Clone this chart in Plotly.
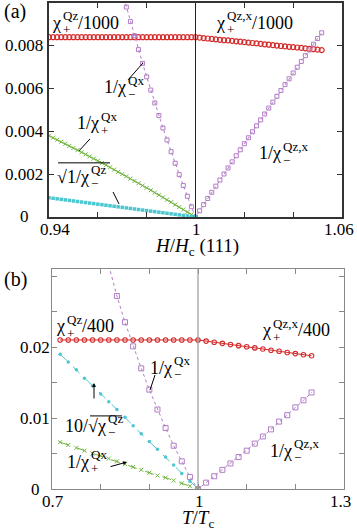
import plotly.graph_objects as go

# ── Data ───────────────────────────────────────────────────────────────────────
# panel (a): field sweep, H/Hc sampled every 1/600
H_A = [0.94, 0.94167, 0.94333, 0.945, 0.94667, 0.94833, 0.95, 0.95167, 0.95333, 0.955,
       0.95667, 0.95833, 0.96, 0.96167, 0.96333, 0.965, 0.96667, 0.96833, 0.97, 0.97167,
       0.97333, 0.975, 0.97667, 0.97833, 0.98, 0.98167, 0.98333, 0.985, 0.98667, 0.98833,
       0.99, 0.99167, 0.99333, 0.995, 0.99667, 0.99833, 1.0, 1.00167, 1.00333, 1.005,
       1.00667, 1.00833, 1.01, 1.01167, 1.01333, 1.015, 1.01667, 1.01833, 1.02, 1.02167,
       1.02333, 1.025, 1.02667, 1.02833, 1.03, 1.03167, 1.03333, 1.035, 1.03667, 1.03833,
       1.04, 1.04167, 1.04333, 1.045, 1.04667, 1.04833, 1.05, 1.05167]

chi_plus_a = [0.0084] * 37 + [
    0.00838, 0.00836, 0.00834, 0.00832, 0.0083, 0.00828, 0.00826, 0.00825, 0.00823, 0.00821,
    0.00819, 0.00817, 0.00815, 0.00813, 0.00811, 0.00809, 0.00807, 0.00805, 0.00803, 0.00801,
    0.00799, 0.00797, 0.00795, 0.00794, 0.00792, 0.0079, 0.00788, 0.00786, 0.00784, 0.00782,
    0.0078]

inv_plus_qx_a = [
    0.0038, 0.003705, 0.00361, 0.003515, 0.003419, 0.003322, 0.003224, 0.003126, 0.003028,
    0.002928, 0.002828, 0.002728, 0.002626, 0.002524, 0.002422, 0.002318, 0.002214, 0.00211,
    0.002005, 0.001899, 0.001792, 0.001685, 0.001577, 0.001469, 0.00136, 0.00125, 0.00114,
    0.001029, 0.000917, 0.000805, 0.000692, 0.000578, 0.000464, 0.000349, 0.000233, 0.000117,
    0.0]

sqrt_minus_qz_a = [
    0.0009, 0.000875, 0.00085, 0.000825, 0.0008, 0.000775, 0.00075, 0.000725, 0.0007,
    0.000675, 0.00065, 0.000625, 0.0006, 0.000575, 0.00055, 0.000525, 0.0005, 0.000475,
    0.00045, 0.000425, 0.0004, 0.000375, 0.00035, 0.000325, 0.0003, 0.000275, 0.00025,
    0.000225, 0.0002, 0.000175, 0.00015, 0.000125, 0.0001, 0.000075, 0.00005, 0.000025, 0.0]

# 1/chi_-  (Qx below Hc, Qz,x above); starts at H = 0.97
inv_minus_a = [
    0.0105, 0.00981, 0.00913, 0.00847, 0.00782, 0.00718, 0.00655, 0.00593, 0.00533, 0.00474,
    0.00416, 0.0036, 0.00305, 0.00251, 0.00198, 0.00147, 0.00097, 0.00048, 0.0,
    0.00029, 0.000578, 0.000866, 0.001154, 0.00144, 0.001726, 0.00201, 0.002294, 0.002578,
    0.00286, 0.003142, 0.003422, 0.003702, 0.003982, 0.00426, 0.004538, 0.004814, 0.00509,
    0.005366, 0.00564, 0.005914, 0.006186, 0.006458, 0.00673, 0.007, 0.00727, 0.007538,
    0.007806, 0.008074, 0.00834, 0.008606]

# panel (b): temperature sweep, T/Tc sampled every 1/60
T_B = [0.71667, 0.73333, 0.75, 0.76667, 0.78333, 0.8, 0.81667, 0.83333, 0.85, 0.86667,
       0.88333, 0.9, 0.91667, 0.93333, 0.95, 0.96667, 0.98333, 1.0, 1.01667, 1.03333,
       1.05, 1.06667, 1.08333, 1.1, 1.11667, 1.13333, 1.15, 1.16667, 1.18333, 1.2,
       1.21667, 1.23333]

chi_plus_b = [0.021] * 18 + [
    0.02084, 0.02068, 0.02052, 0.02036, 0.0202, 0.02004, 0.01988, 0.01972, 0.01956, 0.0194,
    0.01924, 0.01908, 0.01892, 0.01877]

inv_minus_b = [  # starts at T = 0.81667
    0.0315, 0.0272, 0.0235, 0.0201, 0.017, 0.014, 0.0112, 0.0086, 0.0061, 0.0039, 0.0017, 0.0,
    0.0009, 0.0018, 0.0027, 0.0036, 0.0045, 0.0054, 0.0064, 0.0074, 0.0084, 0.0095, 0.0104,
    0.0115, 0.0125, 0.0136]

sqrt_minus_qz_b = [0.019, 0.0179, 0.0168, 0.0156, 0.0145, 0.0134, 0.0123, 0.0112, 0.0101,
                   0.0089, 0.0078, 0.0067, 0.0056, 0.0045, 0.0034, 0.0022, 0.0011, 0.0]

inv_plus_qx_b = [0.0066, 0.0062, 0.0058, 0.0054, 0.005, 0.0047, 0.0043, 0.0039, 0.0035,
                 0.0031, 0.0027, 0.0023, 0.0019, 0.0016, 0.0012, 0.0008, 0.0004, 0.0]

# ticks (labels only where the reference prints one)
XT_A = [0.94, 0.96, 0.98, 1.0, 1.02, 1.04, 1.06]
XL_A = {0.94: "0.94", 1.0: "1", 1.06: "1.06"}
YT_A = [0, 0.002, 0.004, 0.006, 0.008, 0.01]
YL_A = {0: "0", 0.002: "0.002", 0.004: "0.004", 0.006: "0.006", 0.008: "0.008"}
XT_B = [0.7, 0.8, 0.9, 1.0, 1.1, 1.2, 1.3]
XL_B = {0.7: "0.7", 1.0: "1", 1.3: "1.3"}
YT_B = [0, 0.005, 0.01, 0.015, 0.02, 0.025, 0.03]
YL_B = {0: "0", 0.01: "0.01", 0.02: "0.02"}

# ── Style ──────────────────────────────────────────────────────────────────────
SERIF = "Liberation Serif, Times New Roman, serif"
RED = "#d42a2a"
PURPLE = "#b27cc6"
CYAN = "#4cc6cf"
GREEN = "#6fb43c"
BASE = dict(family=SERIF, size=18, color="black")
SCRIPT = dict(family=SERIF, size=13, color="black")
TICK = dict(family=SERIF, size=17, color="black")

fig = go.Figure()

# panel (a)
fig.add_trace(go.Scatter(x=H_A, y=chi_plus_a, mode="markers", xaxis="x", yaxis="y",
                         marker=dict(symbol="circle-open", size=5, color=RED, line=dict(width=1.2))))
fig.add_trace(go.Scatter(x=H_A[18:], y=inv_minus_a, mode="lines+markers", xaxis="x", yaxis="y",
                         line=dict(color=PURPLE, width=1, dash="dot"),
                         marker=dict(symbol="square-open", size=4, color=PURPLE, line=dict(width=1))))
fig.add_trace(go.Scatter(x=H_A[:37], y=inv_plus_qx_a, mode="lines+markers", xaxis="x", yaxis="y",
                         line=dict(color=GREEN, width=1),
                         marker=dict(symbol="x-thin-open", size=4, color=GREEN, line=dict(width=1, color=GREEN))))
fig.add_trace(go.Scatter(x=H_A[:37], y=sqrt_minus_qz_a, mode="markers", xaxis="x", yaxis="y",
                         marker=dict(symbol="square", size=3.5, color=CYAN)))

# panel (b)
fig.add_trace(go.Scatter(x=T_B, y=chi_plus_b, mode="lines+markers", xaxis="x2", yaxis="y2",
                         line=dict(color=RED, width=1),
                         marker=dict(symbol="circle-open", size=4.5, color=RED, line=dict(width=1.1))))
fig.add_trace(go.Scatter(x=T_B[6:], y=inv_minus_b, mode="lines+markers", xaxis="x2", yaxis="y2",
                         line=dict(color=PURPLE, width=1, dash="dot"),
                         marker=dict(symbol="square-open", size=5, color=PURPLE, line=dict(width=1))))
fig.add_trace(go.Scatter(x=T_B[:18], y=sqrt_minus_qz_b, mode="lines+markers", xaxis="x2", yaxis="y2",
                         line=dict(color=CYAN, width=1, dash="dash"),
                         marker=dict(symbol="circle", size=3.5, color=CYAN)))
fig.add_trace(go.Scatter(x=T_B[:18], y=inv_plus_qx_b, mode="lines+markers", xaxis="x2", yaxis="y2",
                         line=dict(color=GREEN, width=1, dash="dash"),
                         marker=dict(symbol="x-thin-open", size=4, color=GREEN, line=dict(width=1, color=GREEN))))


def axis(dom, rng, tv, col, anchor, lw):
    return dict(domain=dom, range=rng, tickvals=tv, ticks="inside", ticklen=5, tickcolor=col,
                showline=True, linecolor=col, linewidth=lw, mirror="ticks", showgrid=False,
                zeroline=False, anchor=anchor, showticklabels=False)


fig.update_layout(
    width=357, height=532,
    margin=dict(l=0, r=0, t=0, b=0),
    paper_bgcolor="white", plot_bgcolor="white",
    showlegend=False,
    font=dict(family=SERIF, size=18, color="black"),
    xaxis=axis([0.1373, 0.958], [0.94, 1.06], XT_A, "#333", "y", 1.5),
    yaxis=axis([0.5921, 0.9944], [0, 0.01], YT_A, "#333", "x", 1.5),
    xaxis2=axis([0.1457, 0.9636], [0.7, 1.3], XT_B, "#888", "y2", 1.2),
    yaxis2=axis([0.0808, 0.4944], [0, 0.031], YT_B, "#888", "x2", 1.2),
)

# vertical lines at the critical point
fig.add_shape(type="line", xref="x", yref="y", x0=1, x1=1, y0=0, y1=0.01, line=dict(color="#222", width=1))
fig.add_shape(type="line", xref="x2", yref="y2", x0=1, x1=1, y0=0, y1=0.031, line=dict(color="#999", width=1.2))


def note(x, y, text, font, xr="paper", yr="paper", xa="center", ya="middle", **kw):
    return dict(x=x, y=y, xref=xr, yref=yr, text=text, showarrow=False, font=font,
                xanchor=xa, yanchor=ya, borderpad=0, **kw)


ann = []

# tick labels
XSHIFT = {0.94: 6, 1.0: 1, 1.06: -3, 0.7: 1, 1.3: -4}
for v, t in XL_A.items():
    ann.append(note(v, 0, t, TICK, "x", "y", ya="top", yshift=-2, xshift=XSHIFT[v]))
for v, t in YL_A.items():
    ann.append(note(24 / 357, v, t, TICK, "paper", "y"))
for v, t in XL_B.items():
    ann.append(note(v, 0, t, TICK, "x2", "y2", ya="top", yshift=-2, xshift=XSHIFT[v]))
for v, t in YL_B.items():
    ann.append(note(35 / 357, v, t, TICK, "paper", "y2"))

# panel tags and axis titles
TITLE = dict(family=SERIF, size=19, color="black")
ann += [
    note(15 / 357, 1 - 12 / 532, "(a)", dict(family=SERIF, size=20, color="black")),
    note(15 / 357, 1 - 279 / 532, "(b)", dict(family=SERIF, size=20, color="black")),
    note(197 / 357, 1 - 247 / 532, "<i>H</i>/<i>H</i><sub>c</sub> (111)", TITLE),
    note(198 / 357, 1 - 519 / 532, "<i>T</i>/<i>T</i><sub>c</sub>", TITLE),
]


def chi_label(xr, yr, x, y, base, sup, sub, tail="", tail_dx=0):
    out = [
        note(x, y, base, BASE, xr, yr, xa="right"),
        note(x, y, sup, SCRIPT, xr, yr, xa="left", yshift=7),
        note(x, y, sub, SCRIPT, xr, yr, xa="left", yshift=-7),
    ]
    if tail:
        out.append(note(x, y, tail, BASE, xr, yr, xa="left", xshift=tail_dx))
    return out


def arrow(xr, yr, x, y, ax, ay):
    return dict(x=x, y=y, ax=ax, ay=ay, xref=xr, yref=yr, axref=xr, ayref=yr, text="",
                showarrow=True, arrowhead=2, arrowsize=0.8, arrowwidth=1, arrowcolor="black")


def tick_line(xr, yr, x0, y0, x1, y1):
    fig.add_shape(type="line", xref=xr, yref=yr, x0=x0, y0=y0, x1=x1, y1=y1,
                  line=dict(color="black", width=1))


# panel (a) labels
ann += chi_label("x", "y", 0.94532, 0.00908, "χ", "Qz", "+", "/1000", 15)
ann += chi_label("x", "y", 1.01249, 0.00908, "χ", "Qz,x", "+", "/1000", 25)
ann += chi_label("x", "y", 0.97195, 0.00606, "1/χ", "Qx", "−")
ann += chi_label("x", "y", 0.96089, 0.00437, "1/χ", "Qx", "+")
ann += chi_label("x", "y", 0.95679, 0.00187, "√1/χ", "Qz", "−")
ann += chi_label("x", "y", 1.03543, 0.00299, "1/χ", "Qz,x", "−")
tick_line("x", "y", 0.9724, 0.00641, 0.97853, 0.0072)
tick_line("x", "y", 0.95229, 0.00309, 0.95679, 0.00365)
tick_line("x", "y", 0.96621, 0.00117, 0.96867, 0.00061)

# panel (b) labels
ann += chi_label("x2", "y2", 0.72877, 0.02296, "χ", "Qz", "+", "/400", 15)
ann += chi_label("x2", "y2", 1.15205, 0.0224, "χ", "Qz,x", "+", "/400", 25)
ann += chi_label("x2", "y2", 0.94863, 0.01711, "1/χ", "Qx", "−")
ann += chi_label("x2", "y2", 0.81301, 0.00894, "10/√χ", "Qz", "−")
ann += chi_label("x2", "y2", 0.77808, 0.00387, "1/χ", "Qx", "+")
ann += chi_label("x2", "y2", 1.19521, 0.00542, "1/χ", "Qz,x", "−")
tick_line("x2", "y2", 0.90137, 0.01394, 0.91164, 0.01606)
ann += [
    arrow("x2", "y2", 0.7863, 0.01493, 0.7863, 0.01254),
    arrow("x2", "y2", 0.85411, 0.0038, 0.81712, 0.0031),
]

fig.update_layout(annotations=ann)

# overlines of the square roots
fig.add_shape(type="line", xref="x", yref="y", x0=0.9437, x1=0.965, y0=0.00253, y1=0.00253,
              line=dict(color="black", width=1))
fig.add_shape(type="line", xref="x2", yref="y2", x0=0.7781, x1=0.8438, y0=0.0103, y1=0.0103,
              line=dict(color="black", width=1))

fig.write_html("out.html", config={"displayModeBar": False},
               post_script="document.body.style.margin='0';")
